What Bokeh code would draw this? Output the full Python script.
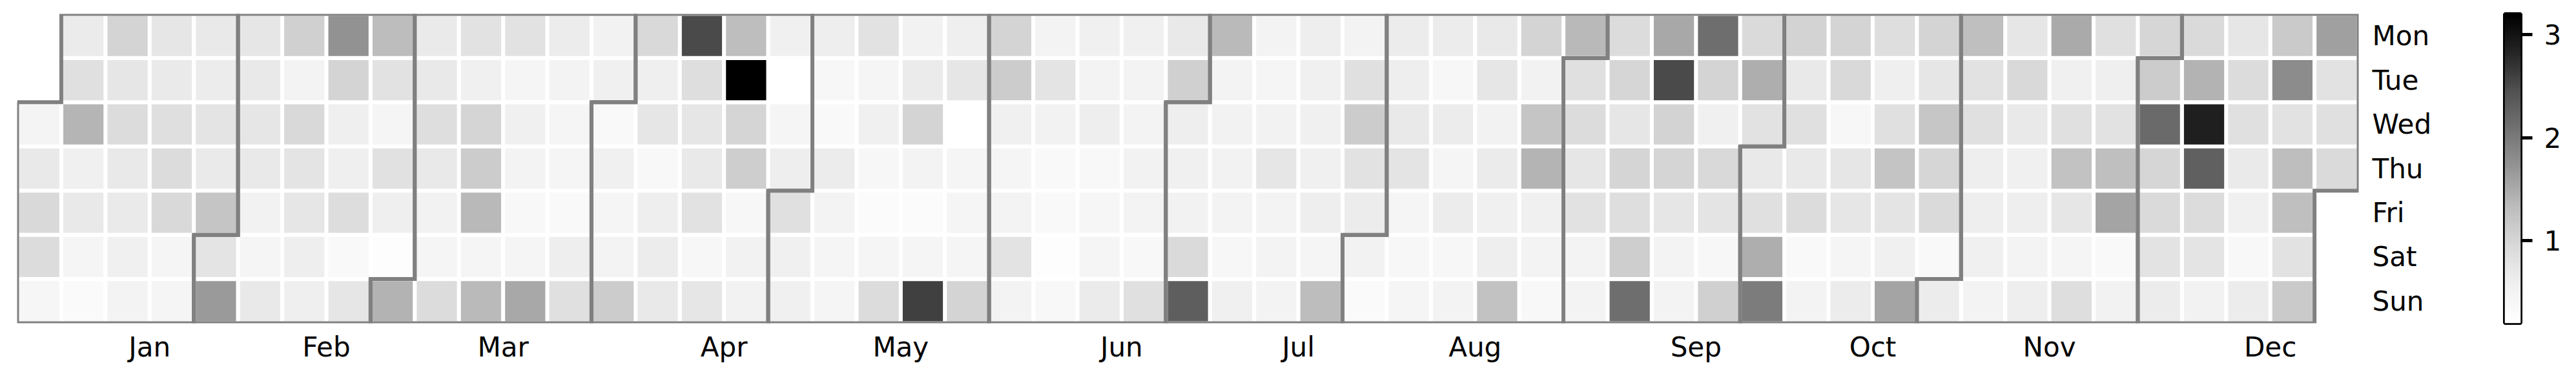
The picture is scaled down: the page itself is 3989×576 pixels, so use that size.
import numpy as np
import pandas as pd
from bokeh.plotting import figure
from bokeh.models import Range1d, FixedTicker, LinearColorMapper, ColumnDataSource
from bokeh.layouts import row
from bokeh.palettes import Greys9
from bokeh.transform import linear_cmap
from bokeh.embed import file_html
from bokeh.resources import INLINE

year = 2020
month_names = ["Jan", "Feb", "Mar", "Apr", "May", "Jun",
               "Jul", "Aug", "Sep", "Oct", "Nov", "Dec"]
day_names = ["Mon", "Tue", "Wed", "Thu", "Fri", "Sat", "Sun"]
cbar_ticks = [1, 2, 3]

jan = [0.48, 0.70, 0.95, 0.90, 0.43, 0.66, 0.84, 1.40, 0.58, 0.70, 0.45, 0.33,
       1.02, 0.74, 0.90, 0.70, 0.67, 0.58, 0.50, 0.74, 0.67, 0.85, 0.90, 0.95,
       0.45, 0.45, 0.70, 0.64, 0.77, 0.67, 1.22]
feb = [0.77, 1.66, 0.74, 0.70, 0.75, 0.70, 0.53, 0.45, 0.70, 1.07, 0.50, 0.96,
       0.77, 0.74, 0.62, 0.59, 1.74, 1.02, 0.59, 0.59, 0.88, 0.35, 0.74, 1.33,
       0.80, 0.45, 0.82, 0.59, 0.25]
mar = [1.42, 0.67, 0.69, 0.87, 0.70, 0.53, 0.45, 0.90, 0.80, 0.58, 1.00, 1.12,
       1.37, 0.45, 1.35, 0.80, 0.45, 0.58, 0.50, 0.38, 0.45, 1.53, 0.64, 0.50,
       0.45, 0.45, 0.35, 0.61, 0.84, 0.53, 0.58]
apr = [0.35, 0.58, 0.45, 0.50, 1.12, 0.96, 0.59, 0.74, 0.38, 0.61, 0.64, 0.70,
       2.52, 0.87, 0.74, 0.70, 0.80, 0.40, 0.74, 1.31, 3.20, 1.00, 1.10, 0.40,
       0.53, 0.53, 0.58, 0.22, 0.45, 0.61]
may = [0.84, 0.58, 0.58, 0.61, 0.40, 0.35, 0.64, 0.50, 0.45, 0.45, 0.80, 0.45,
       0.58, 0.40, 0.30, 0.45, 0.90, 0.53, 0.66, 1.02, 0.50, 0.30, 0.45, 2.60,
       0.59, 0.74, 0.20, 0.45, 0.45, 0.45, 1.02]
jun = [1.02, 1.12, 0.58, 0.45, 0.50, 0.79, 0.50, 0.50, 0.77, 0.53, 0.35, 0.35,
       0.25, 0.38, 0.58, 0.50, 0.61, 0.38, 0.43, 0.45, 0.66, 0.58, 0.50, 0.50,
       0.53, 0.50, 0.38, 0.84, 0.70, 1.07]
jul = [0.61, 0.58, 0.53, 0.93, 2.31, 1.35, 0.50, 0.53, 0.53, 0.50, 0.40, 0.58,
       0.50, 0.45, 0.53, 0.75, 0.50, 0.50, 0.50, 0.61, 0.58, 0.58, 0.58, 0.61,
       0.45, 1.33, 0.50, 0.84, 1.12, 0.80, 0.64]
aug = [0.53, 0.33, 0.64, 0.61, 0.70, 0.77, 0.45, 0.40, 0.45, 0.64, 0.40, 0.64,
       0.45, 0.64, 0.40, 0.50, 0.70, 0.74, 0.53, 0.66, 0.58, 0.61, 1.26, 1.02,
       0.53, 1.22, 1.41, 0.58, 0.50, 0.38, 1.37]
sep = [0.84, 0.90, 0.75, 0.80, 0.50, 0.50, 0.90, 0.99, 0.74, 1.00, 0.87, 1.10,
       2.13, 1.53, 2.52, 1.04, 1.00, 0.74, 0.50, 0.50, 2.13, 1.02, 0.58, 0.96,
       0.77, 0.40, 1.07, 0.93, 1.47, 0.80]
oct = [0.70, 0.84, 1.47, 1.98, 1.04, 0.70, 0.84, 0.70, 0.90, 0.35, 0.50, 1.02,
       0.96, 0.40, 0.74, 0.74, 0.45, 0.64, 0.87, 0.59, 0.84, 1.24, 0.77, 0.58,
       1.57, 1.02, 0.74, 1.20, 0.99, 0.93, 0.35]
nov = [0.64, 1.29, 0.80, 0.84, 0.61, 0.61, 0.58, 0.50, 0.74, 0.95, 0.70, 0.58,
       0.61, 0.50, 0.61, 1.51, 0.58, 0.84, 1.26, 0.74, 0.45, 0.87, 0.84, 0.59,
       0.80, 1.29, 1.56, 0.35, 0.53, 0.99]
dec = [1.12, 2.18, 0.99, 0.93, 0.79, 0.64, 0.93, 1.43, 2.88, 2.29, 0.90, 0.77,
       0.53, 0.74, 0.90, 0.84, 0.67, 0.58, 0.38, 0.64, 1.15, 1.81, 0.80, 1.31,
       1.29, 0.80, 1.15, 1.60, 0.80, 0.84, 0.93]

monthly = [jan, feb, mar, apr, may, jun, jul, aug, sep, oct, nov, dec]
values = [v for m in monthly for v in m]

dates = pd.date_range(f"{year}-01-01", f"{year}-12-31", freq="D")
offset = dates[0].weekday()
week = (np.arange(len(dates)) + offset) // 7
dow = np.asarray(dates.weekday)
n_weeks = int(week.max()) + 1

vmin, vmax = min(values), max(values)


# matplotlib-style "Greys" (white -> black), interpolated from Brewer Greys9
def _hex2rgb(h):
    h = h.lstrip("#")
    return [int(h[i:i + 2], 16) for i in (0, 2, 4)]


anchors = [_hex2rgb(c) for c in Greys9]
if sum(anchors[0]) < sum(anchors[-1]):
    anchors = anchors[::-1]
anchors = np.array(anchors, dtype=float)
t_anchor = np.linspace(0, 1, len(anchors))
t_pal = np.linspace(0, 1, 256)
pal = []
for t in t_pal:
    rgb = [int(round(np.interp(t, t_anchor, anchors[:, k]))) for k in range(3)]
    pal.append("#%02x%02x%02x" % tuple(rgb))

FONT = "DejaVu Sans"
FS = "42px"

src = ColumnDataSource(dict(x=week + 0.5, y=dow + 0.5, v=values))

p = figure(width=3778, height=568, title=None,
           x_range=Range1d(0, n_weeks), y_range=Range1d(7, 0),
           output_backend="svg", toolbar_location=None,
           x_axis_location="below", y_axis_location="right",
           min_border_left=26, min_border_right=126,
           min_border_top=21, min_border_bottom=68)
p.outline_line_color = None
p.grid.visible = False
p.background_fill_color = "white"
p.border_fill_color = "white"

p.rect(x="x", y="y", width=0.91, height=0.91, source=src,
       fill_color=linear_cmap("v", pal, vmin, vmax), line_color=None)

# month outlines
xs, ys, tick_pos = [], [], []
for m in range(1, 13):
    mask = np.asarray(dates.month == m)
    w = week[mask]
    d = dow[mask]
    w0, d0, w1, d1 = int(w[0]), int(d[0]), int(w[-1]), int(d[-1])
    xs.append([w0, w0 + 1, w0 + 1, w1 + 1, w1 + 1, w1, w1, w0, w0])
    ys.append([d0, d0, 0, 0, d1 + 1, d1 + 1, 7, 7, d0])
    tick_pos.append(float(week[mask][14]) + 1.0)

p.multi_line(xs=xs, ys=ys, line_color="#808080", line_width=6,
             line_join="miter")

xa = p.xaxis[0]
xa.ticker = FixedTicker(ticks=tick_pos)
xa.major_label_overrides = {t: n for t, n in zip(tick_pos, month_names)}
ya = p.yaxis[0]
ya.ticker = FixedTicker(ticks=[i + 0.5 for i in range(7)])
ya.major_label_overrides = {i + 0.5: n for i, n in enumerate(day_names)}
for ax, so in ((xa, 12), (ya, 21)):
    ax.axis_line_color = None
    ax.major_tick_line_color = None
    ax.minor_tick_line_color = None
    ax.major_tick_out = 0
    ax.major_tick_in = 0
    ax.major_label_standoff = so
    ax.major_label_text_font = FONT
    ax.major_label_text_font_size = FS
    ax.major_label_text_color = "black"

# colour bar
mapper = LinearColorMapper(palette=pal, low=vmin, high=vmax)
cb = figure(width=203, height=568, title=None,
            x_range=Range1d(0, 1), y_range=Range1d(vmin, vmax),
            output_backend="svg", toolbar_location=None,
            x_axis_location=None, y_axis_location="right",
            min_border_left=100, min_border_right=78,
            min_border_top=16, min_border_bottom=64)
cb.grid.visible = False
grad = np.linspace(vmin, vmax, 256).reshape(256, 1)
cb.image(image=[grad], x=0, y=vmin, dw=1, dh=vmax - vmin, color_mapper=mapper)
cb.outline_line_color = "black"
cb.outline_line_width = 5
cb.outline_line_alpha = 1.0
cya = cb.yaxis[0]
cya.ticker = FixedTicker(ticks=cbar_ticks)
cya.axis_line_color = None
cya.minor_tick_line_color = None
cya.major_tick_in = 0
cya.major_tick_out = 18
cya.major_tick_line_width = 5
cya.major_tick_line_color = "black"
cya.major_label_standoff = 18
cya.major_label_text_font = FONT
cya.major_label_text_font_size = FS
cya.major_label_text_color = "black"

layout = row(p, cb)
open("out.html", "w").write(file_html(layout, INLINE))
